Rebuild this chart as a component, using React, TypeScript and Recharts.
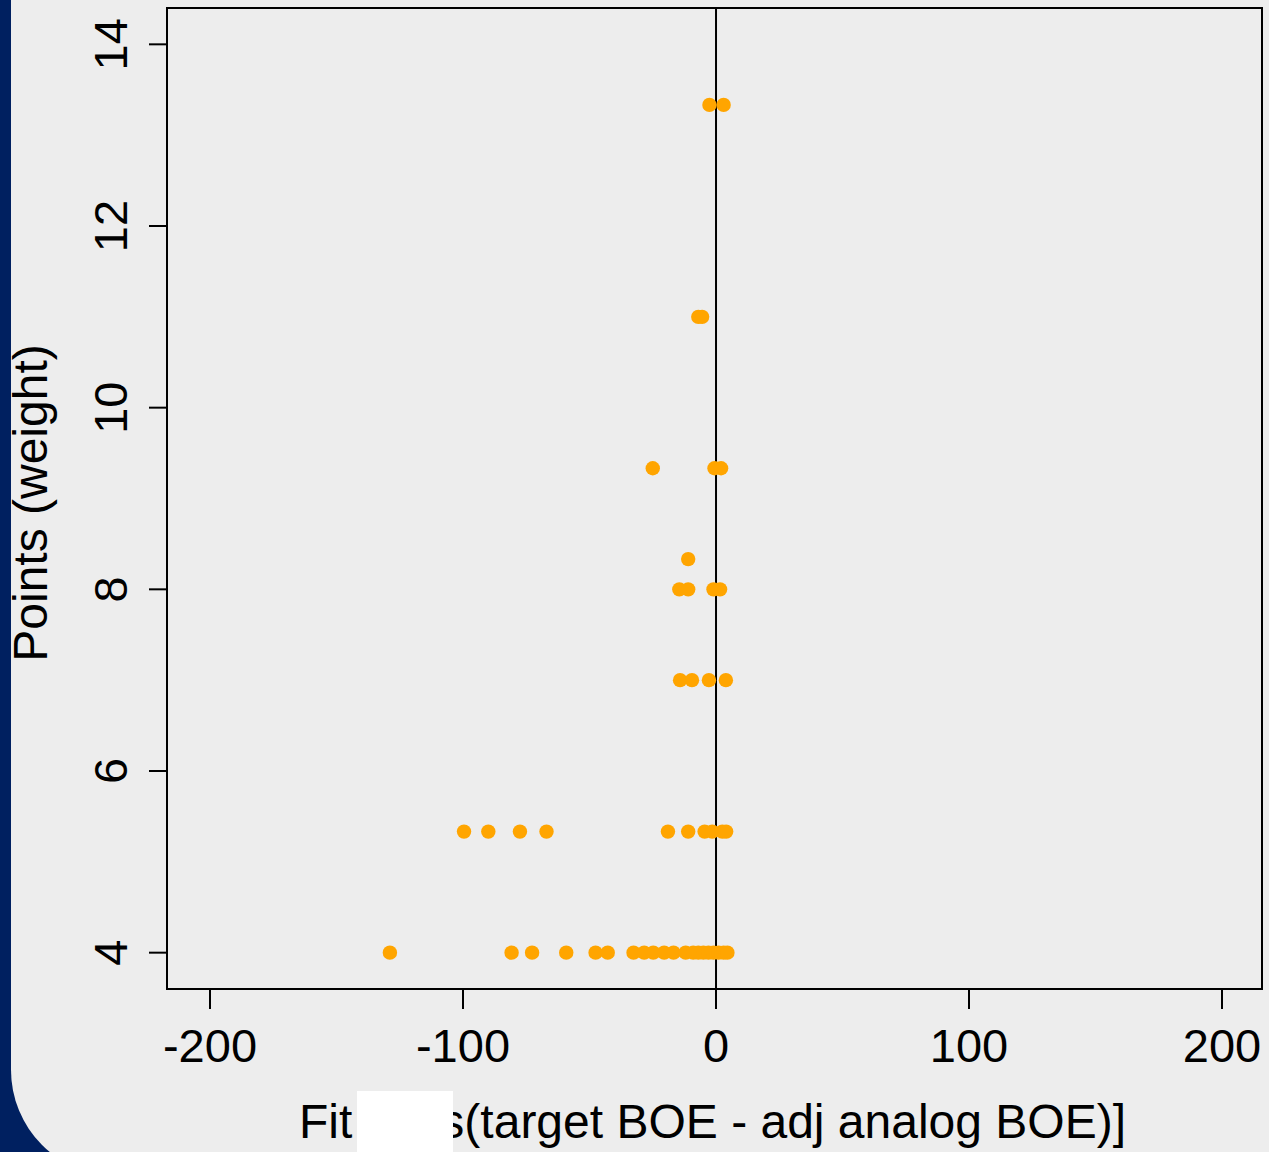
import React from 'react';
import { ScatterChart, Scatter, XAxis, YAxis, ReferenceLine, ReferenceArea } from 'recharts';

const xTicks = [-200, -100, 0, 100, 200];
const yTicks = [4, 6, 8, 10, 12, 14];
const xDomain: [number, number] = [-217, 215.8];
const yDomain: [number, number] = [3.6, 14.4];

const weights = [4, 5.333, 7, 8, 8.333, 9.333, 11, 13.333];
const residW4 = [-128.9, -80.8, -72.7, -59.2, -47.6, -42.8, -32.6, -28.4, -24.8, -20.5, -16.8, -12, -9, -7, -5, -3, -1, 1, 3, 4.5];
const residW533 = [-99.6, -90, -77.5, -67, -19, -11, -4.5, -1.5, 2.5, 4];
const residW7 = [-14.2, -9.5, -2.8, 3.9];
const residW8 = [-14.5, -11, -1, 1.6];
const residW833 = [-11];
const residW933 = [-25, -0.6, 2];
const residW11 = [-7, -5.5];
const residW1333 = [-2.6, 3];

const residRows = [residW4, residW533, residW7, residW8, residW833, residW933, residW11, residW1333];
const points = residRows.flatMap((row, i) => row.map((x) => ({ x, y: weights[i] })));

const FONT = '"Liberation Sans", Arial, sans-serif';

const XTick = (props: any) => {
  const { x, y, payload } = props;
  return (
    <text x={x} y={y + 51} textAnchor="middle" fontSize={47} fontFamily={FONT} fill="#000">
      {payload.value}
    </text>
  );
};

const YTick = (props: any) => {
  const { x, y, payload } = props;
  const bx = x - 20;
  return (
    <text x={bx} y={y} transform={`rotate(-90, ${bx}, ${y})`} textAnchor="middle" fontSize={47} fontFamily={FONT} fill="#000">
      {payload.value}
    </text>
  );
};

const Dot = (props: any) => {
  const { cx, cy } = props;
  return <circle cx={cx} cy={cy} r={7.2} fill="#FFA500" />;
};

export default function App() {
  return (
    <div style={{ position: 'absolute', top: 0, left: 0, width: 1269, height: 1152, background: '#002060', overflow: 'hidden' }}>
      <div style={{ position: 'absolute', left: 11, top: 0, width: 1300, height: 1176, background: '#EDEDED', borderBottomLeftRadius: 106 }} />
      <div style={{ position: 'absolute', left: 0, top: 0 }}>
        <ScatterChart width={1269} height={1152} margin={{ top: 8, right: 7, bottom: 103, left: 107 }}>
          <XAxis
            type="number"
            dataKey="x"
            domain={xDomain}
            allowDataOverflow
            ticks={xTicks}
            tickSize={20}
            height={60}
            axisLine={false}
            tickLine={{ stroke: '#000', strokeWidth: 2 }}
            tick={<XTick />}
            interval={0}
          />
          <YAxis
            type="number"
            dataKey="y"
            domain={yDomain}
            allowDataOverflow
            ticks={yTicks}
            tickSize={18}
            width={60}
            axisLine={false}
            tickLine={{ stroke: '#000', strokeWidth: 2 }}
            tick={<YTick />}
            interval={0}
          />
          <ReferenceArea
            x1={xDomain[0]}
            x2={xDomain[1]}
            y1={yDomain[0]}
            y2={yDomain[1]}
            fill="none"
            fillOpacity={0}
            stroke="#000"
            strokeWidth={2}
            strokeOpacity={1}
            ifOverflow="visible"
          />
          <ReferenceLine x={0} stroke="#000" strokeWidth={2} ifOverflow="visible" />
          <Scatter data={points} shape={<Dot />} isAnimationActive={false} />
        </ScatterChart>
      </div>
      <svg width={1269} height={1152} style={{ position: 'absolute', left: 0, top: 0, pointerEvents: 'none' }}>
        <text x={47} y={503} transform="rotate(-90, 47, 503)" textAnchor="middle" fontSize={48} fontFamily={FONT} fill="#000">
          Points (weight)
        </text>
        <text x={299} y={1138} textAnchor="start" fontSize={48} fontFamily={FONT} fill="#000">Fit</text>
        <text x={1126} y={1138} textAnchor="end" fontSize={48} fontFamily={FONT} fill="#000">s(target BOE - adj analog BOE)]</text>
        <rect x={357} y={1091} width={96} height={61} fill="#FFFFFF" />
      </svg>
    </div>
  );
}
